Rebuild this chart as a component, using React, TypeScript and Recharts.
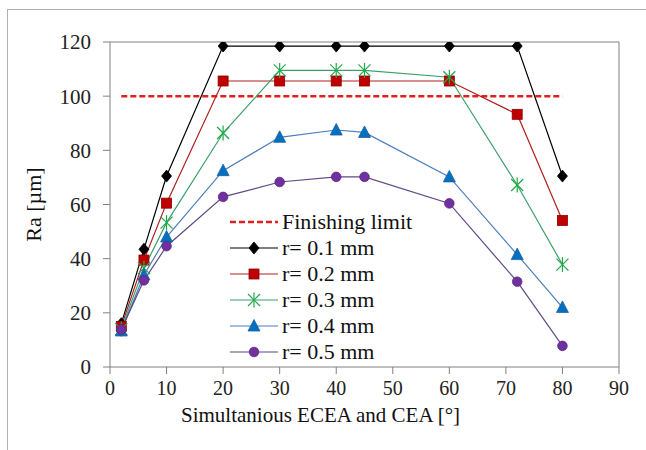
import React from 'react';
import { LineChart, Line, XAxis, YAxis, Legend, ReferenceLine } from 'recharts';

const angles = [2, 6, 10, 20, 30, 40, 45, 60, 72, 80];
const r01 = [16, 43.5, 70.5, 118.5, 118.5, 118.5, 118.5, 118.5, 118.5, 70.5];
const r02 = [15, 39.5, 60.5, 105.6, 105.6, 105.6, 105.6, 105.6, 93.3, 54.1];
const r03 = [14, 36.5, 53.3, 86.4, 109.5, 109.5, 109.5, 107, 67.2, 37.8];
const r04 = [13.3, 34, 48, 72.5, 84.8, 87.5, 86.6, 70.2, 41.5, 22];
const r05 = [13.8, 32, 44.6, 62.8, 68.3, 70.2, 70.2, 60.4, 31.5, 7.8];
const limitX = [2, 80];
const limitY = [100, 100];
const xTicks = [0, 10, 20, 30, 40, 50, 60, 70, 80, 90];
const yTicks = [0, 20, 40, 60, 80, 100, 120];

const toData = (ys: number[]) => angles.map((x, i) => ({ x, y: ys[i] }));
const limitData = limitX.map((x, i) => ({ x, y: limitY[i] }));

const FONT = '"Liberation Serif", "Times New Roman", serif';

type Shape = 'diamond' | 'square' | 'star' | 'triangle' | 'circle';

function Marker({ cx, cy, shape, fill, stroke }: { cx: number; cy: number; shape: Shape; fill: string; stroke: string }) {
  if (cx == null || cy == null) return null;
  switch (shape) {
    case 'diamond':
      return <polygon points={`${cx},${cy - 6} ${cx + 5},${cy} ${cx},${cy + 6} ${cx - 5},${cy}`} fill={fill} stroke={stroke} strokeWidth={0.8} />;
    case 'square':
      return <rect x={cx - 5} y={cy - 5} width={10} height={10} fill={fill} stroke={stroke} strokeWidth={0.8} />;
    case 'star':
      return (
        <g stroke={stroke} strokeWidth={1.2}>
          <line x1={cx - 6} y1={cy - 6} x2={cx + 6} y2={cy + 6} />
          <line x1={cx - 6} y1={cy + 6} x2={cx + 6} y2={cy - 6} />
          <line x1={cx} y1={cy - 7.5} x2={cx} y2={cy + 7.5} />
        </g>
      );
    case 'triangle':
      return <polygon points={`${cx},${cy - 6.5} ${cx + 6},${cy + 5} ${cx - 6},${cy + 5}`} fill={fill} stroke={stroke} strokeWidth={0.8} />;
    case 'circle':
      return <circle cx={cx} cy={cy} r={4.8} fill={fill} stroke={stroke} strokeWidth={0.8} />;
  }
  return null;
}

const series = [
  { name: 'r= 0.1 mm', data: r01, line: '#000000', fill: '#000000', stroke: '#000000', shape: 'diamond' as Shape },
  { name: 'r= 0.2 mm', data: r02, line: '#B02020', fill: '#C00000', stroke: '#8a0000', shape: 'square' as Shape },
  { name: 'r= 0.3 mm', data: r03, line: '#3DA06A', fill: 'none', stroke: '#22A84A', shape: 'star' as Shape },
  { name: 'r= 0.4 mm', data: r04, line: '#4A7EBB', fill: '#0070C0', stroke: '#1F5F9F', shape: 'triangle' as Shape },
  { name: 'r= 0.5 mm', data: r05, line: '#5F4A85', fill: '#7030A0', stroke: '#5A2A80', shape: 'circle' as Shape },
];

function LegendContent() {
  const rowH = 26;
  return (
    <div style={{ fontFamily: FONT, fontSize: 22, color: '#111' }}>
      <div style={{ display: 'flex', alignItems: 'center', height: rowH }}>
        <svg width={52} height={rowH}>
          <line x1={0} y1={rowH / 2} x2={48} y2={rowH / 2} stroke="#E02020" strokeWidth={2.5} strokeDasharray="6 3" />
        </svg>
        <span style={{ lineHeight: `${rowH}px`, fontFamily: FONT }}>Finishing limit</span>
      </div>
      {series.map((s) => (
        <div key={s.name} style={{ display: 'flex', alignItems: 'center', height: rowH }}>
          <svg width={52} height={rowH}>
            <line x1={0} y1={rowH / 2} x2={48} y2={rowH / 2} stroke={s.line} strokeWidth={1.2} />
            <Marker cx={24} cy={rowH / 2} shape={s.shape} fill={s.fill} stroke={s.stroke} />
          </svg>
          <span style={{ lineHeight: `${rowH}px`, fontFamily: FONT }}>{s.name}</span>
        </div>
      ))}
    </div>
  );
}

export default function App() {
  return (
    <div>
      <div
        style={{
          position: 'absolute',
          left: 7,
          top: 9,
          width: 639,
          height: 441,
          borderLeft: '1px solid #b0b0b0',
          borderTop: '1px solid #b0b0b0',
          boxSizing: 'border-box',
          pointerEvents: 'none',
        }}
      />
      <LineChart width={638} height={442} margin={{ top: 34, right: 27, left: 0, bottom: 22 }}>
        <XAxis
          type="number"
          dataKey="x"
          domain={[0, 90]}
          ticks={xTicks}
          allowDataOverflow
          stroke="#808080"
          tickSize={7}
          tickMargin={7}
          height={61}
          tick={{ fontFamily: FONT, fontSize: 20, fill: '#222' }}
          label={{ value: 'Simultanious ECEA and CEA [°]', position: 'insideBottom', offset: 6, dx: -44, style: { fontFamily: FONT, fontSize: 21, fill: '#111' } }}
        />
        <YAxis
          type="number"
          dataKey="y"
          domain={[0, 120]}
          ticks={yTicks}
          allowDataOverflow
          stroke="#808080"
          tickSize={7}
          tickMargin={12}
          width={102}
          tick={{ fontFamily: FONT, fontSize: 21, fill: '#222' }}
          label={{ value: 'Ra [µm]', angle: -90, position: 'insideLeft', offset: 25, style: { fontFamily: FONT, fontSize: 22, fill: '#111', textAnchor: 'middle' } }}
        />
        <ReferenceLine y={120} stroke="#808080" />
        <ReferenceLine x={90} stroke="#808080" />
        <Line
          data={limitData}
          dataKey="y"
          name="Finishing limit"
          stroke="#E02020"
          strokeWidth={2.5}
          strokeDasharray="6 3"
          dot={false}
          isAnimationActive={false}
        />
        {series.map((s) => (
          <Line
            key={s.name}
            data={toData(s.data)}
            dataKey="y"
            name={s.name}
            stroke={s.line}
            strokeWidth={1.2}
            isAnimationActive={false}
            dot={(p: any) => <Marker key={`${s.name}-${p.index}`} cx={p.cx} cy={p.cy} shape={s.shape} fill={s.fill} stroke={s.stroke} />}
            activeDot={false}
          />
        ))}
        <Legend
          layout="vertical"
          align="center"
          verticalAlign="middle"
          content={() => <LegendContent />}
          wrapperStyle={{ position: 'absolute', left: 222, top: 201, width: 220 }}
        />
      </LineChart>
    </div>
  );
}
